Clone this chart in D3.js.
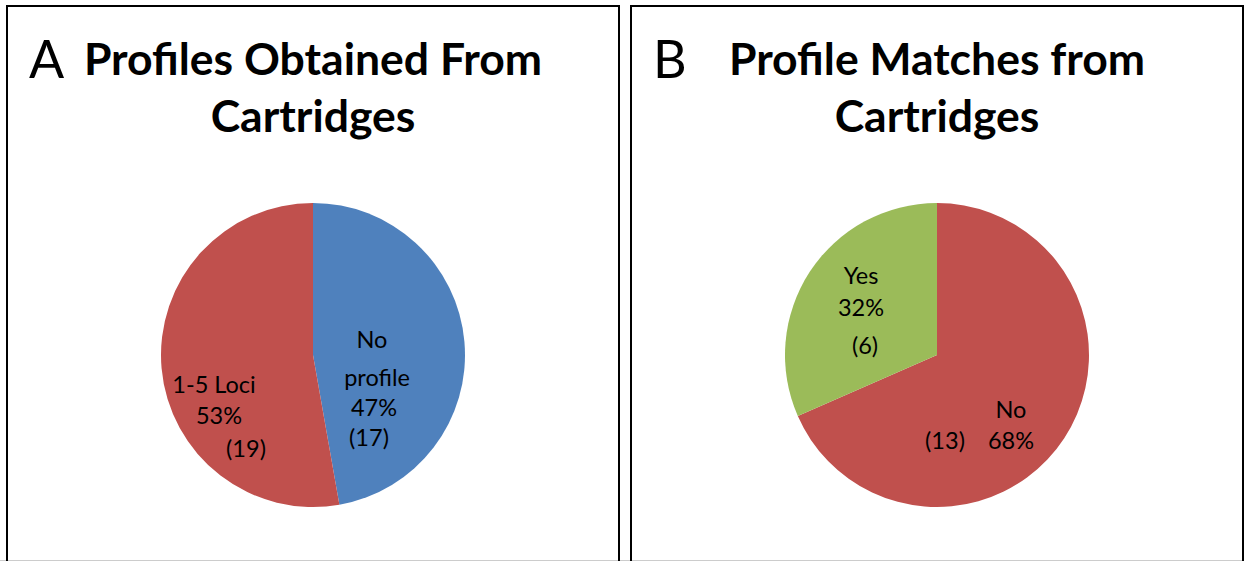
<!DOCTYPE html>
<html lang="en">
  <head>
    <meta charset="utf-8" />
    <style type="text/css">
      body {
        margin: 0;
        background: #fff;
      }
      .title {
        font-family: Lato, "Open Sans", sans-serif;
        font-weight: bold;
        font-size: 44.5px;
        fill: #000;
      }
      .letter {
        font-family: Lato, "Open Sans", sans-serif;
        font-weight: normal;
        font-size: 52px;
        fill: #000;
      }
      .label {
        font-family: Lato, "Open Sans", sans-serif;
        font-size: 23.5px;
        fill: #000;
      }
    </style>
  </head>
  <body>
    <svg width="1244" height="561"></svg>

    <script src="https://d3js.org/d3.v7.min.js"></script>
    <script type="text/javascript">
      // panel A
      var catsA = ["No profile", "1-5 Loci"];
      var valsA = [17, 19];
      var pctA = ["47%", "53%"];
      var colorsA = ["#4F81BD", "#C0504D"];
      var titleA = ["Profiles Obtained From", "Cartridges"];

      // panel B
      var catsB = ["No", "Yes"];
      var valsB = [13, 6];
      var pctB = ["68%", "32%"];
      var colorsB = ["#C0504D", "#9BBB59"];
      var titleB = ["Profile Matches from", "Cartridges"];

      var svg = d3.select("svg");

      // light line at bottom edge
      svg
        .append("line")
        .attr("x1", 0)
        .attr("x2", 1244)
        .attr("y1", 560.5)
        .attr("y2", 560.5)
        .style("stroke", "#ccc");

      var radius = 152;
      var pie = d3.pie().sort(null).value(function (d) {
        return d;
      });
      var arc = d3.arc().innerRadius(0).outerRadius(radius);

      function drawPanel(opts) {
        var g = svg.append("g").attr("transform", "translate(" + opts.x + ",6)");

        g.append("rect")
          .attr("x", 0)
          .attr("y", 0)
          .attr("width", 612)
          .attr("height", 570)
          .style("fill", "none")
          .style("stroke", "#000")
          .style("stroke-width", 2);

        g.append("text")
          .attr("class", "letter")
          .attr("x", opts.letterX)
          .attr("y", 72)
          .text(opts.letter);

        g.selectAll(".title")
          .data(opts.title)
          .enter()
          .append("text")
          .attr("class", "title")
          .attr("x", opts.cx)
          .attr("y", function (d, i) {
            return 69 + i * 57;
          })
          .attr("text-anchor", "middle")
          .text(function (d) {
            return d;
          });

        var pg = g.append("g").attr("transform", "translate(" + opts.cx + "," + opts.cy + ")");

        pg.selectAll("path")
          .data(pie(opts.values))
          .enter()
          .append("path")
          .attr("d", arc)
          .style("fill", function (d, i) {
            return opts.colors[i];
          });

        // labels: each line with an offset from pie centre
        opts.labels.forEach(function (lab) {
          lab.lines.forEach(function (ln) {
            pg.append("text")
              .attr("class", "label")
              .attr("x", ln[1])
              .attr("y", ln[2])
              .attr("text-anchor", "middle")
              .text(ln[0]);
          });
        });
      }

      drawPanel({
        x: 7,
        cx: 306,
        cy: 349,
        letter: "A",
        letterX: 22,
        title: titleA,
        values: valsA,
        colors: colorsA,
        labels: [
          {
            lines: [
              ["No", 59, -7],
              [catsA[0].split(" ")[1], 64, 31],
              [pctA[0], 61, 61],
              ["(" + valsA[0] + ")", 56, 91],
            ],
          },
          {
            lines: [
              [catsA[1], -99, 38],
              [pctA[1], -94, 69],
              ["(" + valsA[1] + ")", -67, 102],
            ],
          },
        ],
      });

      drawPanel({
        x: 631,
        cx: 306,
        cy: 349,
        letter: "B",
        letterX: 22,
        title: titleB,
        values: valsB,
        colors: colorsB,
        labels: [
          {
            lines: [
              [catsB[0], 74, 63],
              [pctB[0], 74, 94],
              ["(" + valsB[0] + ")", 8, 94],
            ],
          },
          {
            lines: [
              [catsB[1], -76, -71],
              [pctB[1], -76, -39],
              ["(" + valsB[1] + ")", -72, -1],
            ],
          },
        ],
      });
    </script>
  </body>
</html>
